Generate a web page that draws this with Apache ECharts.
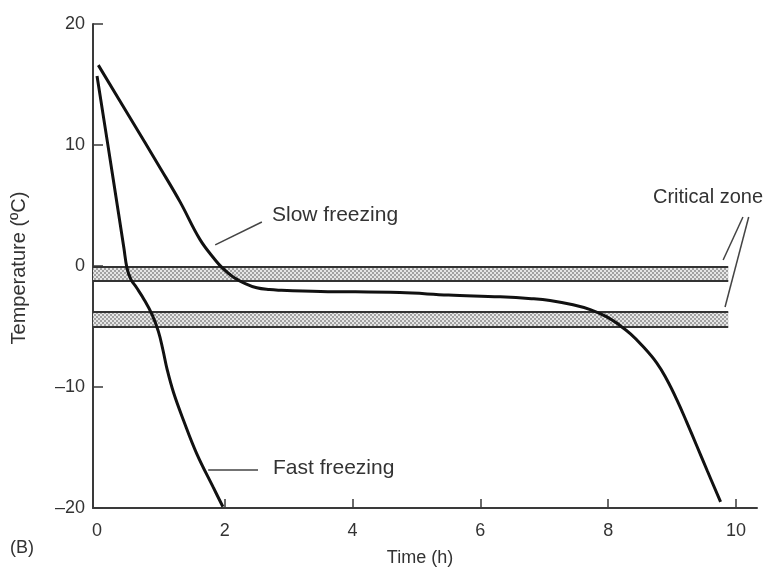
<!DOCTYPE html>
<html>
<head>
<meta charset="utf-8">
<script src="https://cdn.jsdelivr.net/npm/echarts@6/dist/echarts.min.js"></script>
<style>
  html, body { margin: 0; padding: 0; background: #fff; }
  #chart { width: 765px; height: 573px; }
</style>
</head>
<body>
<div id="chart"></div>
<script>
// values (time in h, temperature in ºC)
const fastTime = [0.00, 0.25, 0.42, 0.47, 0.53, 0.62, 0.74, 0.86, 0.96, 1.03, 1.10, 1.20, 1.35, 1.56, 1.82, 1.97]
const fastTemp = [15.7, 7.3, 1.5, -0.2, -1.1, -1.8, -2.8, -4.0, -5.4, -6.9, -8.6, -10.5, -12.7, -15.5, -18.3, -19.9]

const slowTime = [0.02, 0.50, 1.00, 1.30, 1.61, 1.85, 1.97, 2.13, 2.32, 2.50, 2.70, 2.86, 3.50, 4.74, 5.50, 6.31, 6.80, 7.09, 7.45, 7.72, 7.98, 8.18, 8.35, 8.52, 8.76, 8.92, 9.08, 9.23, 9.39, 9.55, 9.76]
const slowTemp = [16.6, 12.4, 8.0, 5.3, 2.2, 0.5, -0.2, -0.9, -1.45, -1.8, -1.95, -2.0, -2.1, -2.2, -2.4, -2.55, -2.7, -2.85, -3.2, -3.6, -4.2, -4.9, -5.6, -6.5, -8.0, -9.4, -11.1, -12.9, -14.9, -16.9, -19.5]

// critical zone bands [top, bottom]
const bandTop = [-0.1, -3.8]
const bandBottom = [-1.25, -5.05]
const bandEnd = 9.88

const xTicks = [0, 2, 4, 6, 8, 10]

const xMin = -0.063
const xMax = 10.33

const toPairs = (xs, ys) => xs.map((x, i) => [x, ys[i]])

// stipple fill for the bands
const pat = document.createElement("canvas")
pat.width = 4
pat.height = 4
const pc = pat.getContext("2d")
pc.fillStyle = "#e6e6e6"
pc.fillRect(0, 0, 4, 4)
pc.fillStyle = "#a2a2a2"
pc.fillRect(0, 0, 2, 2)
pc.fillRect(2, 2, 2, 2)

const FONT = "Liberation Sans, Arial, sans-serif"
const TXT = "#333"

const bandAreas = bandTop.map((t, i) => [
  { coord: [xMin, t] },
  { coord: [bandEnd, bandBottom[i]] },
])
const bandEdges = []
bandTop.forEach((t, i) => {
  bandEdges.push([{ coord: [xMin, t] }, { coord: [bandEnd, t] }])
  bandEdges.push([{ coord: [xMin, bandBottom[i]] }, { coord: [bandEnd, bandBottom[i]] }])
})

// leader lines for the annotations
const leaders = [
  [[2.58, 3.64], [1.85, 1.74]],
  [[1.74, -16.86], [2.52, -16.86]],
  [[10.11, 4.05], [9.80, 0.5]],
  [[10.20, 4.05], [9.83, -3.39]],
].map((p) => [{ coord: p[0] }, { coord: p[1] }])

const chart = echarts.init(document.getElementById("chart"))

chart.setOption({
  animation: false,
  backgroundColor: "#fff",
  grid: { left: 93, right: 8, top: 24, bottom: 65 },
  xAxis: {
    type: "value",
    min: xMin,
    max: xMax,
    axisLine: { onZero: false, lineStyle: { color: "#3a3a3a", width: 2 } },
    axisTick: {
      inside: true,
      length: 9,
      customValues: xTicks.slice(1),
      lineStyle: { color: "#3a3a3a", width: 1.5 },
    },
    axisLabel: {
      customValues: xTicks,
      margin: 14,
      color: TXT,
      fontFamily: FONT,
      fontSize: 18,
    },
    splitLine: { show: false },
  },
  yAxis: {
    type: "value",
    min: -20,
    max: 20,
    interval: 10,
    axisLine: { show: true, onZero: false, lineStyle: { color: "#3a3a3a", width: 2 } },
    axisTick: {
      show: true,
      inside: true,
      length: 10,
      lineStyle: { color: "#3a3a3a", width: 1.5 },
    },
    axisLabel: {
      margin: 8,
      color: TXT,
      fontFamily: FONT,
      fontSize: 18,
      formatter: (v) => String(v).replace("-", "–"),
    },
    splitLine: { show: false },
  },
  series: [
    {
      name: "bands",
      type: "line",
      data: [],
      z: 1,
      silent: true,
      markArea: {
        silent: true,
        itemStyle: { color: { image: pat, repeat: "repeat" } },
        data: bandAreas,
      },
      markLine: {
        silent: true,
        symbol: "none",
        label: { show: false },
        lineStyle: { color: "#333", width: 2, type: "solid" },
        data: bandEdges,
      },
    },
    {
      name: "leaders",
      type: "line",
      data: [],
      z: 2,
      silent: true,
      markLine: {
        silent: true,
        symbol: "none",
        label: { show: false },
        lineStyle: { color: "#444", width: 1.5, type: "solid" },
        data: leaders,
      },
    },
    {
      name: "Fast freezing",
      type: "line",
      data: toPairs(fastTime, fastTemp),
      z: 5,
      smooth: 0.4,
      showSymbol: false,
      lineStyle: { color: "#111", width: 3 },
    },
    {
      name: "Slow freezing",
      type: "line",
      data: toPairs(slowTime, slowTemp),
      z: 5,
      smooth: 0.4,
      showSymbol: false,
      lineStyle: { color: "#111", width: 3 },
    },
  ],
  graphic: [
    {
      type: "text",
      x: 19,
      y: 268,
      rotation: Math.PI / 2,
      style: { text: "Temperature (ºC)", fill: TXT, font: "20px " + FONT, align: "center", verticalAlign: "middle" },
    },
    {
      type: "text",
      x: 420,
      y: 558,
      style: { text: "Time (h)", fill: TXT, font: "18px " + FONT, align: "center", verticalAlign: "middle" },
    },
    {
      type: "text",
      x: 10,
      y: 548,
      style: { text: "(B)", fill: TXT, font: "18px " + FONT, align: "left", verticalAlign: "middle" },
    },
    {
      type: "text",
      x: 272,
      y: 215,
      style: { text: "Slow freezing", fill: TXT, font: "21px " + FONT, align: "left", verticalAlign: "middle" },
    },
    {
      type: "text",
      x: 273,
      y: 468,
      style: { text: "Fast freezing", fill: TXT, font: "21px " + FONT, align: "left", verticalAlign: "middle" },
    },
    {
      type: "text",
      x: 763,
      y: 197,
      style: { text: "Critical zone", fill: TXT, font: "20px " + FONT, align: "right", verticalAlign: "middle" },
    },
  ],
})

window.addEventListener("resize", () => chart.resize())
</script>
</body>
</html>
